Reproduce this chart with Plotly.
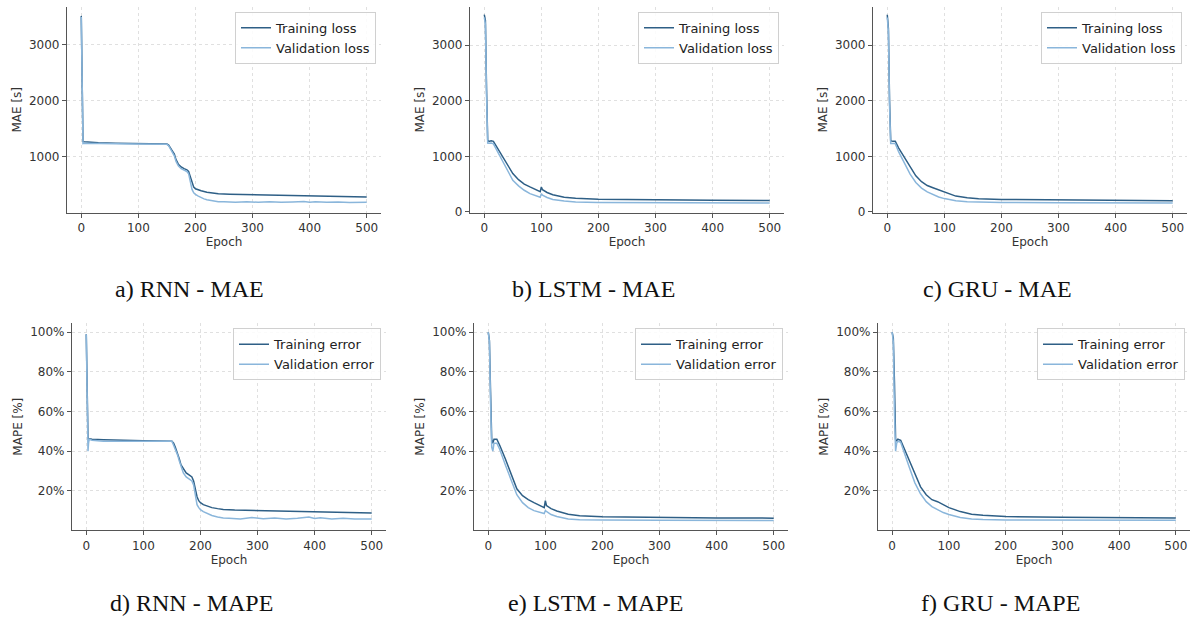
import plotly.graph_objects as go
from plotly.subplots import make_subplots

# ---------------- data ----------------
rnn_mae_train_ep = [0,1,2,3,5,10,30,60,100,150,153,156,160,163,166,170,175,180,185,188,191,194,197,200,205,210,220,230,240,260,300,350,400,450,500]
rnn_mae_train = [3520,3000,1800,1275,1270,1265,1255,1245,1235,1230,1210,1170,1100,1050,950,870,820,790,770,740,640,520,460,430,410,395,370,350,340,335,325,315,305,295,285]
rnn_mae_val_ep = [0,1,2,3,5,10,30,60,100,150,153,156,160,163,166,170,175,180,185,188,191,194,197,200,205,210,215,220,230,240,250,270,290,310,330,350,370,390,400,410,430,450,470,490,500]
rnn_mae_val = [3500,2900,1700,1240,1245,1245,1240,1235,1230,1225,1200,1150,1080,1020,920,840,790,760,740,700,560,420,360,330,300,270,250,235,215,200,198,192,200,190,197,188,195,205,190,198,188,196,187,193,190]

lstm_mae_ep = [0,2,4,6,8,12,16,20,30,40,50,60,70,80,90,98,100,102,110,120,140,160,200,300,400,500]
lstm_mae_train = [3550,3450,2200,1290,1270,1280,1270,1200,1050,860,690,580,500,450,400,365,450,400,350,310,265,245,228,215,208,205]
lstm_mae_val = [3500,3380,2100,1240,1235,1240,1225,1150,960,760,570,470,390,330,300,265,330,300,260,225,195,180,172,166,162,160]

gru_mae_ep = [0,2,4,6,10,14,20,30,40,50,60,70,80,90,100,110,120,140,160,200,300,400,500]
gru_mae_train = [3550,3300,2000,1280,1270,1270,1150,980,800,650,545,475,435,395,355,315,285,255,238,225,215,206,200]
gru_mae_val = [3500,3250,1900,1230,1230,1230,1080,880,680,530,430,360,310,270,240,215,200,182,175,170,165,162,160]

rnn_mape_train_ep = [0,1,2,3,5,10,30,60,100,150,153,156,160,163,166,170,175,180,185,188,191,194,197,200,205,210,220,230,240,260,300,350,400,450,500]
rnn_mape_train = [99,85,60,46.5,46.3,46,45.8,45.5,45.2,45,44,42,39,36,33,31,29,28,27,25,21,17,15,14,13,12.5,11.5,11,10.6,10.3,10,9.7,9.4,9.1,8.8]
rnn_mape_val_ep = [0,1,2,3,4,5,10,30,60,100,150,153,156,160,163,166,170,175,180,185,188,191,194,197,200,205,210,215,220,230,240,250,270,290,310,330,350,370,390,400,410,430,450,470,490,500]
rnn_mape_val = [99,80,55,40,44,46,45.5,45,45,45,45,43,41,38,35,32,29,27,26,25,23,18,13,11.5,10.5,9.5,8.8,8,7.5,6.8,6.3,6.2,5.8,6.5,5.9,6.3,5.7,6.1,6.8,6.0,6.4,5.8,6.2,5.7,6.0,5.8]

lstm_mape_ep = [0,2,4,6,8,10,15,20,30,40,50,60,70,80,90,98,100,102,110,120,140,160,200,300,400,500]
lstm_mape_train = [100,96,70,46,44,46,46,43,36,28,21,17.5,15.5,14,12.5,11.5,15,12.5,11,9.8,8.2,7.4,6.9,6.5,6.3,6.2]
lstm_mape_val = [100,95,65,42,40,44,44,41,33,25,18,14,11.5,10,9,8.5,10,9.5,8,7,5.8,5.4,5.2,5.1,5.1,5.0]

gru_mape_ep = [0,2,4,6,8,10,15,20,30,40,50,60,70,80,90,100,120,140,160,200,300,400,500]
gru_mape_train = [100,97,75,46,45,46,45.5,42,35,28,22,18,15.5,14.5,13,11.5,9.5,8.2,7.6,7,6.6,6.4,6.3]
gru_mape_val = [100,95,60,40,44,45,44.5,40,32,24,18.5,14.5,12,10.5,9,8,6.5,5.8,5.5,5.3,5.2,5.1,5.1]

captions = ["a) RNN - MAE", "b) LSTM - MAE", "c) GRU - MAE",
            "d) RNN - MAPE", "e) LSTM - MAPE", "f) GRU - MAPE"]
mae_ticks = [0, 1000, 2000, 3000]
mae_labels = ["0", "1000", "2000", "3000"]
mape_ticks = [20, 40, 60, 80, 100]
mape_labels = ["20%", "40%", "60%", "80%", "100%"]
x_ticks = [0, 100, 200, 300, 400, 500]

# ---------------- styling ----------------
W, H = 1190, 627
TRAIN_C = "#2e5f86"
VAL_C = "#8ab6db"
FONT = "DejaVu Sans"
GRID_C = "#e0e0e0"

panels = [
    dict(tx=rnn_mae_train_ep, ty=rnn_mae_train, vx=rnn_mae_val_ep, vy=rnn_mae_val,
         names=("Training loss", "Validation loss"), ytitle="MAE [s]", ticks=mae_ticks, labels=mae_labels,
         box=(67, 381, 7, 215), yr=[5, 3680], cap=(190, 292)),
    dict(tx=lstm_mae_ep, ty=lstm_mae_train, vx=lstm_mae_ep, vy=lstm_mae_val,
         names=("Training loss", "Validation loss"), ytitle="MAE [s]", ticks=mae_ticks, labels=mae_labels,
         box=(470, 784, 7, 215), yr=[-12, 3690], cap=(593, 292)),
    dict(tx=gru_mae_ep, ty=gru_mae_train, vx=gru_mae_ep, vy=gru_mae_val,
         names=("Training loss", "Validation loss"), ytitle="MAE [s]", ticks=mae_ticks, labels=mae_labels,
         box=(873, 1187, 7, 215), yr=[-12, 3690], cap=(997, 292)),
    dict(tx=rnn_mape_train_ep, ty=rnn_mape_train, vx=rnn_mape_val_ep, vy=rnn_mape_val,
         names=("Training error", "Validation error"), ytitle="MAPE [%]", ticks=mape_ticks, labels=mape_labels,
         box=(72, 386, 327, 536), yr=[0.2, 104.5], cap=(191, 610)),
    dict(tx=lstm_mape_ep, ty=lstm_mape_train, vx=lstm_mape_ep, vy=lstm_mape_val,
         names=("Training error", "Validation error"), ytitle="MAPE [%]", ticks=mape_ticks, labels=mape_labels,
         box=(474, 788, 327, 536), yr=[0.2, 104.5], cap=(595, 610)),
    dict(tx=gru_mape_ep, ty=gru_mape_train, vx=gru_mape_ep, vy=gru_mape_val,
         names=("Training error", "Validation error"), ytitle="MAPE [%]", ticks=mape_ticks, labels=mape_labels,
         box=(878, 1190, 327, 536), yr=[0.2, 104.5], cap=(1000, 610)),
]

fig = make_subplots(rows=2, cols=3)

layout_upd = {}
for i, p in enumerate(panels):
    r, c = i // 3 + 1, i % 3 + 1
    leg = "legend" if i == 0 else f"legend{i+1}"
    fig.add_trace(go.Scatter(x=p["tx"], y=p["ty"], mode="lines", name=p["names"][0],
                             line=dict(color=TRAIN_C, width=1.5), legend=leg), row=r, col=c)
    fig.add_trace(go.Scatter(x=p["vx"], y=p["vy"], mode="lines", name=p["names"][1],
                             line=dict(color=VAL_C, width=1.5), legend=leg), row=r, col=c)
    x0, x1, y0, y1 = p["box"]
    ax = "xaxis" if i == 0 else f"xaxis{i+1}"
    ay = "yaxis" if i == 0 else f"yaxis{i+1}"
    layout_upd[ax] = dict(domain=[x0 / W, x1 / W], range=[-25, 525], tickmode="array",
                          tickvals=x_ticks, ticktext=[str(v) for v in x_ticks],
                          showgrid=True, gridcolor=GRID_C, griddash="3px,3px", gridwidth=1,
                          showline=True, linecolor="#555", linewidth=1.2, ticks="outside",
                          ticklen=4, tickcolor="#555", zeroline=False,
                          tickfont=dict(family=FONT, size=12, color="#333"),
                          title=dict(text="Epoch", font=dict(family=FONT, size=12, color="#333"), standoff=2))
    layout_upd[ay] = dict(domain=[1 - y1 / H, 1 - y0 / H], range=p["yr"], tickmode="array",
                          tickvals=p["ticks"], ticktext=p["labels"],
                          showgrid=True, gridcolor=GRID_C, griddash="3px,3px", gridwidth=1,
                          showline=True, linecolor="#555", linewidth=1.2, ticks="outside",
                          ticklen=4, tickcolor="#555", zeroline=False,
                          tickfont=dict(family=FONT, size=12, color="#333"),
                          title=dict(text=p["ytitle"], font=dict(family=FONT, size=12, color="#333"), standoff=4))
    layout_upd[leg] = dict(x=(x1 - 5) / W, y=1 - (y0 + 5) / H, xanchor="right", yanchor="top",
                           bgcolor="rgba(255,255,255,0.85)", bordercolor="#d0d0d0", borderwidth=1,
                           font=dict(family=FONT, size=13, color="#222"), tracegroupgap=0,
                           itemwidth=30)
    fig.add_annotation(x=p["cap"][0] / W, y=1 - p["cap"][1] / H, xref="paper", yref="paper",
                       text=captions[i], showarrow=False, xanchor="center", yanchor="middle",
                       font=dict(family="Liberation Serif", size=24, color="#111"))

fig.update_layout(**layout_upd)
fig.update_layout(width=W, height=H, margin=dict(l=0, r=0, t=0, b=0),
                  paper_bgcolor="white", plot_bgcolor="white", showlegend=True)

fig.write_html("out.html")
